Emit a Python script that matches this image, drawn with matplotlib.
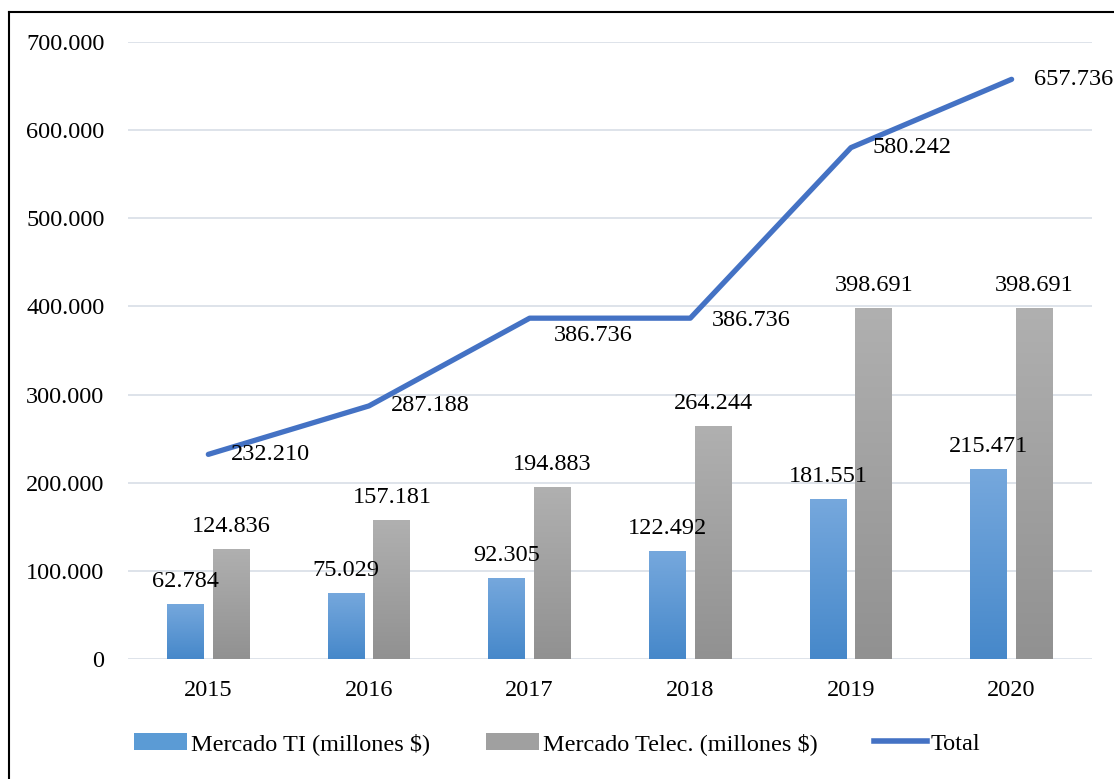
# Mercado TI / Telecomunicaciones: barras + línea total
import numpy as np
import matplotlib.pyplot as plt
from matplotlib.lines import Line2D
from matplotlib.patches import Patch
from matplotlib.colors import LinearSegmentedColormap

# datos
anios = ['2015', '2016', '2017', '2018', '2019', '2020']
mercado_ti = [62.784, 75.029, 92.305, 122.492, 181.551, 215.471]
mercado_telec = [124.836, 157.181, 194.883, 264.244, 398.691, 398.691]
total = [232.210, 287.188, 386.736, 386.736, 580.242, 657.736]
etiquetas_y = ['0', '100.000', '200.000', '300.000', '400.000', '500.000', '600.000', '700.000']

plt.rcParams['font.family'] = ['Liberation Serif', 'DejaVu Serif']
fs = 17.5

fig = plt.figure(figsize=(11.14, 7.79), dpi=100)
ax = fig.add_axes([0.1149, 0.154, 0.8653, 0.792])

x = np.arange(len(anios))
ancho = 0.23
desp = 0.143

b1 = ax.bar(x - desp, mercado_ti, ancho, color='#5b9bd5', zorder=2)
b2 = ax.bar(x + desp, mercado_telec, ancho, color='#a0a0a0', zorder=2)

# degradado vertical dentro de cada barra
cmap_azul = LinearSegmentedColormap.from_list('az', ['#4688ca', '#76a8dd'])
cmap_gris = LinearSegmentedColormap.from_list('gr', ['#919191', '#b0b0b0'])
grad = np.linspace(0, 1, 256).reshape(-1, 1)
for barras, cm in [(b1, cmap_azul), (b2, cmap_gris)]:
    for b in barras:
        bx, by = b.get_x(), b.get_y()
        bw, bh = b.get_width(), b.get_height()
        im = ax.imshow(grad, cmap=cm, origin='lower', aspect='auto',
                       extent=[bx, bx + bw, by, by + bh], zorder=2.1)
        im.set_clip_path(b)

ax.plot(x, total, color='#4472c4', lw=3.8, solid_capstyle='round', zorder=3)

# etiquetas de datos
def fmt(v):
    return f'{v:.3f}'

for xi, v in zip(x, mercado_ti):
    ax.annotate(fmt(v), (xi - desp, v), xytext=(0, 17), textcoords='offset pixels',
                ha='center', va='baseline', fontsize=fs, zorder=4)
for xi, v in zip(x, mercado_telec):
    ax.annotate(fmt(v), (xi + desp, v), xytext=(0, 17), textcoords='offset pixels',
                ha='center', va='baseline', fontsize=fs, zorder=4)
offs = [(23, 0), (22, 0), (24, -17), (22, -2), (22, 0), (22, 0)]
for xi, v, o in zip(x, total, offs):
    ax.annotate(fmt(v), (xi, v), xytext=o, textcoords='offset pixels',
                ha='left', va='center', fontsize=fs, zorder=4)

ax.set_xlim(-0.5, 5.5)
ax.set_ylim(0, 700)
ax.set_yticks(np.arange(0, 701, 100))
ax.set_yticklabels(etiquetas_y)
ax.set_xticks(x)
ax.set_xticklabels(anios)
ax.tick_params(axis='both', length=0, labelsize=fs)
ax.tick_params(axis='y', pad=17)
ax.tick_params(axis='x', pad=15)
ax.grid(axis='y', color='#dbe1e8', lw=1.3, zorder=0)
ax.set_axisbelow(True)
for s in ax.spines.values():
    s.set_visible(False)

handles = [Patch(facecolor='#5b9bd5'), Patch(facecolor='#a0a0a0'),
           Line2D([], [], color='#4472c4', lw=4)]
fig.legend(handles, ['Mercado TI (millones $)', 'Mercado Telec. (millones $)', 'Total'],
           loc='center', bbox_to_anchor=(0.5, 0.045), ncol=3, frameon=False,
           fontsize=fs, handlelength=2.2, handleheight=0.7, handletextpad=0.15,
           columnspacing=2.3)

# marco exterior
fig.add_artist(Line2D([9 / 1114, 9 / 1114], [0, 1 - 12 / 779], transform=fig.transFigure,
                      color='black', lw=1.5))
fig.add_artist(Line2D([9 / 1114, 1], [1 - 12 / 779, 1 - 12 / 779], transform=fig.transFigure,
                      color='black', lw=1.5))

fig.savefig('out.png', dpi=100)
